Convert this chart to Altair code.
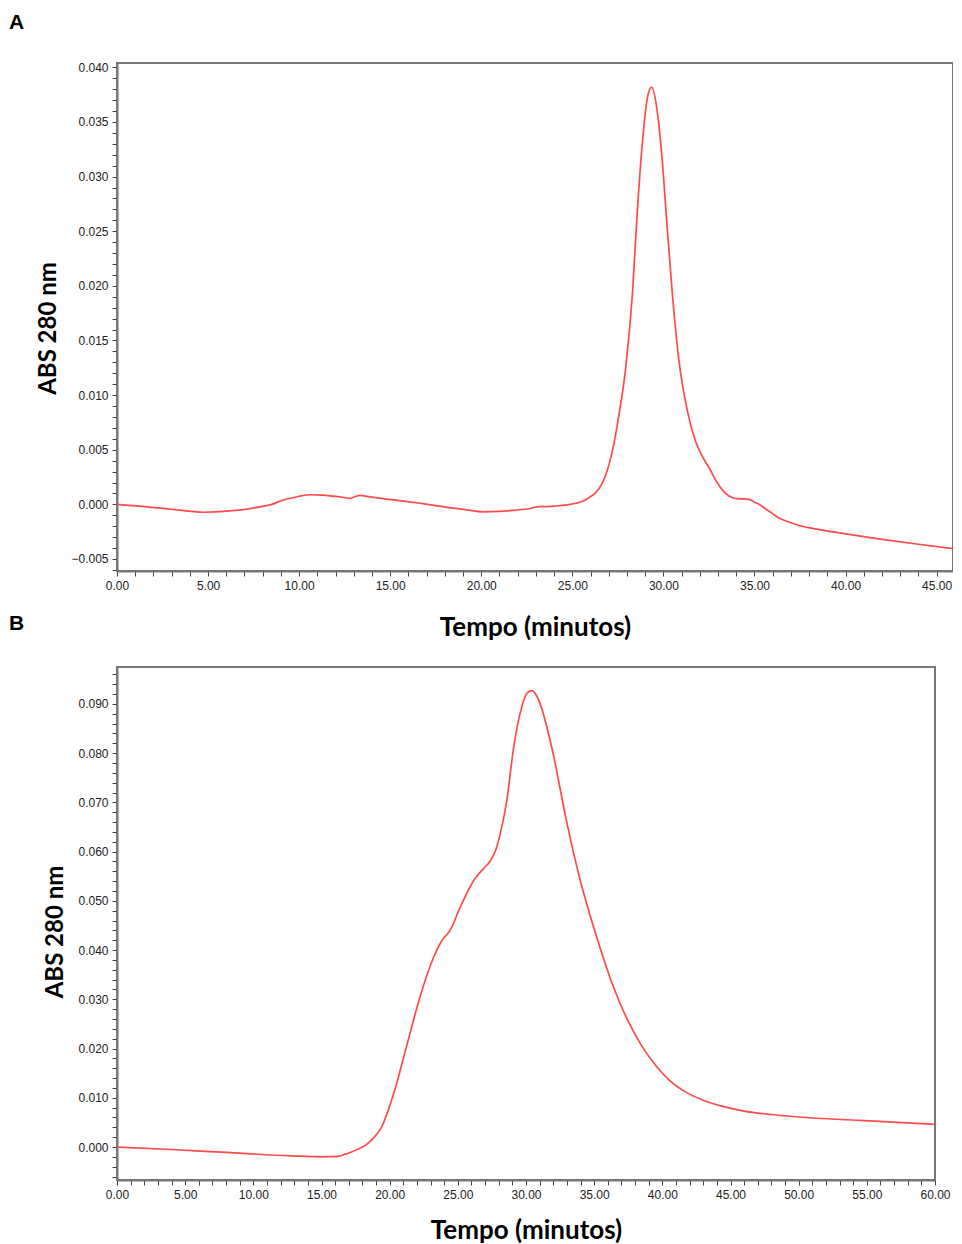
import altair as alt
import pandas as pd

# ---------------- Panel A data ----------------
tA = [0, 1.5, 3.0, 4.75, 6.2, 7.67, 8.5, 9.13, 9.9, 10.59, 11.3, 11.87, 12.4, 12.78,
      13.05, 13.33, 13.8, 14.6, 15.5, 16.43, 17.4, 18.25, 19.2, 20.08, 21.0, 21.9,
      22.6, 23.2, 23.6, 24.1, 24.7, 25.2, 25.6, 25.9, 26.3, 26.6, 26.9, 27.2,
      27.56, 27.93, 28.3, 28.57, 28.84, 29.12, 29.35, 29.66, 29.94, 30.21, 30.49,
      30.85, 31.31, 31.76, 32.1, 32.49, 32.95, 33.41, 33.8, 34.14, 34.45, 34.7, 35.0,
      35.2, 35.6, 35.96, 36.3, 36.7, 37.2, 37.6, 38.2, 40.0, 42.0, 44.0, 45.9]
vA = [0.0, -0.0002, -0.00045, -0.00072, -0.0006, -0.00028, 0.0, 0.0004, 0.0007,
      0.00088, 0.00085, 0.00075, 0.00065, 0.00055, 0.0007, 0.00082, 0.0007, 0.00052,
      0.00035, 0.00015, -0.0001, -0.0003, -0.0005, -0.00068, -0.00065, -0.00052,
      -0.0004, -0.0002, -0.0002, -0.00015, -0.00005, 0.0001, 0.0003, 0.0006, 0.0011,
      0.0018, 0.003, 0.0049, 0.0082, 0.0125, 0.0193, 0.0269, 0.033, 0.0372,
      0.0382, 0.036, 0.0314, 0.0253, 0.0193, 0.0132, 0.0086, 0.0058, 0.0045, 0.0034,
      0.002, 0.001, 0.0006, 0.0005, 0.0005, 0.00045, 0.0002, 0.00005, -0.0004,
      -0.0008, -0.0012, -0.0015, -0.0018, -0.002, -0.0022, -0.0027, -0.0032,
      -0.00365, -0.00405]

# ---------------- Panel B data ----------------
tB = [0, 4, 8, 12.8, 15, 16.2, 16.7, 17.2, 17.7, 18.2, 18.8, 19.4, 20.3, 21.3, 22.3,
      23.25, 23.8, 24.45, 25.2, 26.2, 26.9, 27.4, 27.8, 28.1, 28.6, 29.07, 29.7,
      30.05, 30.4, 30.75, 31.1, 31.98, 32.95, 33.9, 35.1, 36.4, 37.5, 38.5, 39.5,
      40.5, 41.7, 43.0, 44.5, 46.0, 48.0, 50.0, 54.5, 60]
vB = [0.0, -0.0005, -0.0011, -0.0018, -0.002, -0.0019, -0.0015, -0.001, -0.0004,
      0.0003, 0.0018, 0.004, 0.0109, 0.0211, 0.0312, 0.0387, 0.0418, 0.0441, 0.0489,
      0.0543, 0.0566, 0.0582, 0.0605, 0.0635, 0.0705, 0.0807, 0.0895, 0.0921, 0.0927,
      0.0918, 0.0895, 0.080, 0.0665, 0.055, 0.0434, 0.0326, 0.0255, 0.0205, 0.0166,
      0.0136, 0.0112, 0.0095, 0.0082, 0.0073, 0.0066, 0.0061, 0.0054, 0.0046]

# tick values (labelled every 5 min / 0.005 or 0.010, the rest unlabelled minor ticks)
xA_ticks = list(range(0, 46))
yA_ticks = [round(-0.006 + 0.001 * i, 3) for i in range(47)]
xB_ticks = list(range(0, 61))
yB_ticks = [round(-0.006 + 0.002 * i, 3) for i in range(52)]

panel_letters_A = ["A"]
panel_letters_B = ["B"]
x_title = "Tempo (minutos)"
y_title = "ABS 280 nm"

RED = "#ff4a4a"
LABEL_FONT = "Liberation Sans"
TITLE_FONT = "Lato"

dfA = pd.DataFrame({"t": tA, "v": vA})
dfB = pd.DataFrame({"t": tB, "v": vB})

WA, HA = 836, 508
WB, HB = 818, 513


def x_axis(values, title_pad):
    return alt.Axis(values=values,
                    labelExpr="datum.value % 5 == 0 ? format(datum.value, '.2f') : ''",
                    title=x_title, titlePadding=title_pad, labelFlush=False,
                    labelOverlap=False, grid=False)


def y_axis(values, major_mult, title_y):
    return alt.Axis(values=values,
                    labelExpr=f"round(datum.value*1000) % {major_mult} == 0 ? format(datum.value, '.3f') : ''",
                    title=y_title, titlePadding=10, titleY=title_y, labelOverlap=False,
                    labelFlush=False, grid=False)


lineA = alt.Chart(dfA).mark_line(color=RED, strokeWidth=1.7, interpolate="monotone").encode(
    x=alt.X("t:Q", scale=alt.Scale(domain=[0, 45.9], nice=False, zero=False),
            axis=x_axis(xA_ticks, 23)),
    y=alt.Y("v:Q", scale=alt.Scale(domain=[-0.0061, 0.0404], nice=False, zero=False),
            axis=y_axis(yA_ticks, 5, HA / 2 + 11)),
)
letterA = alt.Chart(pd.DataFrame({"lab": panel_letters_A})).mark_text(
    font=LABEL_FONT, fontSize=21, fontWeight="bold", align="left", baseline="top", color="#000"
).encode(text="lab:N", x=alt.value(-108), y=alt.value(-51))
letterB = alt.Chart(pd.DataFrame({"lab": panel_letters_B})).mark_text(
    font=LABEL_FONT, fontSize=21, fontWeight="bold", align="left", baseline="top", color="#000"
).encode(text="lab:N", x=alt.value(-108), y=alt.value(HA + 42))

chartA = alt.layer(lineA, letterA, letterB).properties(width=WA, height=HA)

lineB = alt.Chart(dfB).mark_line(color=RED, strokeWidth=1.7, interpolate="monotone").encode(
    x=alt.X("t:Q", scale=alt.Scale(domain=[0, 60], nice=False, zero=False),
            axis=x_axis(xB_ticks, 17)),
    y=alt.Y("v:Q", scale=alt.Scale(domain=[-0.0067, 0.0975], nice=False, zero=False),
            axis=y_axis(yB_ticks, 10, HB / 2 + 8)),
)
chartB = lineB.properties(width=WB, height=HB)

chart = alt.vconcat(chartA, chartB, spacing=25).properties(
    padding={"left": 0, "top": 3, "right": -5, "bottom": 0}
).configure_view(
    stroke="#777777", strokeWidth=2
).configure_axis(
    domainColor="#777777", domainWidth=2,
    tickColor="#444444", tickWidth=1, tickSize=5,
    labelFont=LABEL_FONT, labelFontSize=12, labelColor="#222222", labelPadding=4,
    titleFont=TITLE_FONT, titleFontWeight="bold", titleColor="#000000",
).configure_axisX(
    titleFontSize=26
).configure_axisY(
    titleFontSize=24
)

chart.save("out.html", embed_options={"renderer": "svg", "actions": False})
